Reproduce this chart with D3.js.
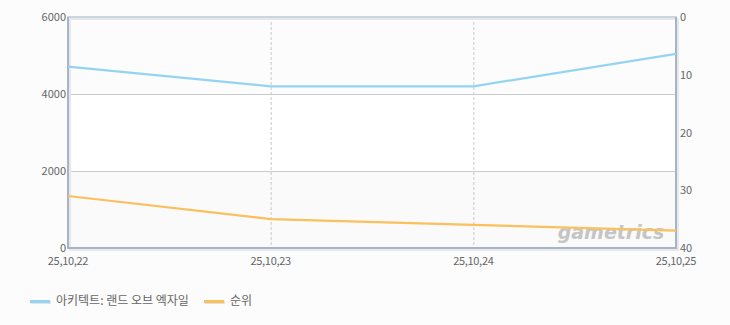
<!DOCTYPE html>
<html>
<head>
<meta charset="utf-8">
<script src="https://cdn.jsdelivr.net/npm/d3@7"></script>
<style>
body { margin: 0; background: #fcfcfc; }
text { font-family: "Noto Sans CJK KR", "DejaVu Sans", sans-serif; }
</style>
</head>
<body>
<script>
// game line vs rank
var dates = ["25,10,22", "25,10,23", "25,10,24", "25,10,25"];
var gameName = "아키텍트: 랜드 오브 엑자일";
var gameValues = [4710, 4200, 4200, 5040];
var rankName = "순위";
var rankValues = [31, 35, 36, 37];
var leftTicks = [0, 2000, 4000, 6000];
var rightTicks = [0, 10, 20, 30, 40];

var svg = d3.select("body").append("svg").attr("width", 730).attr("height", 325);
var pLeft = 68, pRight = 676, pTop = 17, pBottom = 248;

var x = d3.scalePoint().domain(dates).range([pLeft, pRight]);
var yL = d3.scaleLinear().domain([0, 6000]).range([pBottom, pTop]);
var yR = d3.scaleLinear().domain([0, 40]).range([pTop, pBottom]);

// bands
var bandColors = ["#fafafa", "#ffffff", "#fcfcfc"];
for (var i = 0; i < leftTicks.length - 1; i++) {
    svg.append("rect")
        .attr("x", pLeft).attr("y", yL(leftTicks[i + 1]))
        .attr("width", pRight - pLeft).attr("height", yL(leftTicks[i]) - yL(leftTicks[i + 1]))
        .style("fill", bandColors[i]);
}

// horizontal grid
leftTicks.slice(1, -1).forEach(function (t) {
    svg.append("line")
        .attr("x1", pLeft).attr("x2", pRight)
        .attr("y1", yL(t) + 0.5).attr("y2", yL(t) + 0.5)
        .style("stroke", "#cccccc");
});

// vertical dashed grid
dates.slice(1, -1).forEach(function (d) {
    svg.append("line")
        .attr("x1", x(d) + 0.5).attr("x2", x(d) + 0.5)
        .attr("y1", pTop).attr("y2", pBottom)
        .style("stroke", "#c8c8c8")
        .style("stroke-dasharray", "3,2");
});

// frame shadow + frame
svg.append("rect")
    .attr("x", pLeft + 2).attr("y", pTop + 2)
    .attr("width", pRight - pLeft).attr("height", pBottom - pTop)
    .style("fill", "none").style("stroke", "#e8e8e8").style("stroke-width", 2);
svg.append("rect")
    .attr("x", pLeft).attr("y", pTop)
    .attr("width", pRight - pLeft).attr("height", pBottom - pTop)
    .style("fill", "none").style("stroke", "#b9c9dc").style("stroke-width", 1.5);
svg.append("line").attr("x1", pLeft).attr("x2", pLeft).attr("y1", pTop).attr("y2", pBottom + 1)
    .style("stroke", "#a5b4c8").style("stroke-width", 2);
svg.append("line").attr("x1", pLeft).attr("x2", pRight + 1).attr("y1", pBottom).attr("y2", pBottom)
    .style("stroke", "#a5b4c8").style("stroke-width", 2);
svg.append("line").attr("x1", pRight).attr("x2", pRight).attr("y1", pTop).attr("y2", pBottom)
    .style("stroke", "#a5b4c8").style("stroke-width", 2);

// watermark
svg.append("text")
    .attr("x", 611).attr("y", 239)
    .attr("text-anchor", "middle")
    .style("font-family", "DejaVu Sans")
    .style("font-style", "italic").style("font-weight", "bold")
    .style("font-size", "19px")
    .style("fill", "#b8b8b8")
    .style("opacity", 0.8)
    .text("gametrics");

// lines
var lineL = d3.line().x(function (d, i) { return x(dates[i]); }).y(function (d) { return yL(d); });
var lineR = d3.line().x(function (d, i) { return x(dates[i]); }).y(function (d) { return yR(d); });

svg.append("path").attr("d", lineL(gameValues))
    .style("fill", "none").style("stroke", "#95d3f3").style("stroke-width", 2.2);
svg.append("path").attr("d", lineR(rankValues))
    .style("fill", "none").style("stroke", "#fbbf5c").style("stroke-width", 2.2);

// axis labels
leftTicks.forEach(function (t) {
    svg.append("text")
        .attr("x", pLeft - 2).attr("y", yL(t) + 4)
        .attr("text-anchor", "end")
        .style("font-size", "11px").style("fill", "#666")
        .text(t);
});
rightTicks.forEach(function (t) {
    svg.append("text")
        .attr("x", pRight + 4).attr("y", yR(t) + 4)
        .style("font-size", "11px").style("fill", "#666")
        .text(t);
});
dates.forEach(function (d) {
    svg.append("text")
        .attr("x", x(d)).attr("y", 265)
        .attr("text-anchor", "middle")
        .style("font-size", "11px").style("fill", "#666")
        .style("letter-spacing", "-0.3px")
        .text(d);
});

// legend
var legend = [[gameName, "#95d3f3", 30], [rankName, "#fbbf5c", 204]];
legend.forEach(function (l) {
    svg.append("rect").attr("x", l[2] + 1).attr("y", 301).attr("width", 20).attr("height", 3).style("fill", "#e2e2e2");
    svg.append("rect").attr("x", l[2]).attr("y", 300).attr("width", 20).attr("height", 3).style("fill", l[1]);
    svg.append("text")
        .attr("x", l[2] + 26).attr("y", 305)
        .style("font-size", "12px").style("fill", "#666")
        .text(l[0]);
});
</script>
</body>
</html>
